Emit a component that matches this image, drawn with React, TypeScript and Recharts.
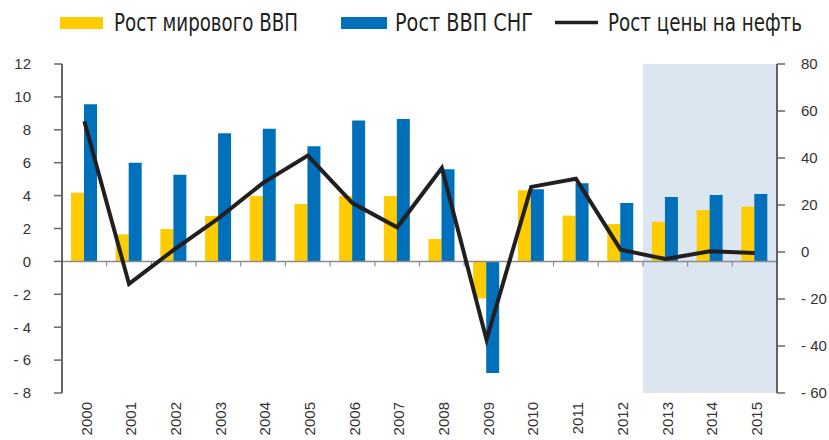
import React from 'react'
import {
  ComposedChart,
  Bar,
  Line,
  XAxis,
  YAxis,
  ReferenceArea,
  ReferenceLine,
} from 'recharts'

const YEARS = [
  '2000', '2001', '2002', '2003', '2004', '2005', '2006', '2007',
  '2008', '2009', '2010', '2011', '2012', '2013', '2014', '2015',
]
const WORLD_GDP = [4.18, 1.64, 1.97, 2.76, 3.98, 3.49, 3.98, 3.98, 1.36, -2.25, 4.32, 2.78, 2.27, 2.41, 3.12, 3.33]
const CIS_GDP = [9.56, 6.0, 5.26, 7.79, 8.06, 7.0, 8.56, 8.65, 5.6, -6.78, 4.38, 4.75, 3.55, 3.92, 4.04, 4.1]
const OIL_PRICE = [55.6, -13.6, 0.9, 14.3, 29.4, 41, 20.8, 10.5, 35.7, -37.3, 27.7, 31.2, 1.0, -3.0, 0.3, -0.4]

const LEFT_TICKS = [-8, -6, -4, -2, 0, 2, 4, 6, 8, 10, 12]
const RIGHT_TICKS = [-60, -40, -20, 0, 20, 40, 60, 80]
const FORECAST_FROM = '2013'
const FORECAST_TO = '2015'

const LABELS = {
  world: 'Рост мирового ВВП',
  cis: 'Рост ВВП СНГ',
  oil: 'Рост цены на нефть',
}

const YELLOW = '#ffcc00'
const BLUE = '#0070ba'
const BLACK = '#231f20'
const SHADE = '#dce6f1'
const AXIS = '#333333'

const data = YEARS.map((year, i) => ({
  year,
  world: WORLD_GDP[i],
  cis: CIS_GDP[i],
  oil: OIL_PRICE[i],
}))

const fmt = (v: number) => (v < 0 ? `- ${Math.abs(v)}` : `${v}`)

const tickFont = { fontFamily: '"Liberation Sans", Arial, sans-serif', fontSize: 15, fill: AXIS }

function YearTick(props: any) {
  const { x, y, payload } = props
  return (
    <text
      x={x + 2}
      y={y}
      dy="0.35em"
      transform={`rotate(-90 ${x + 2} ${y})`}
      textAnchor="end"
      {...tickFont}
    >
      {payload.value}
    </text>
  )
}

// zero line with small ticks on the category boundaries
function ZeroLine(props: any) {
  const { x1, x2, y1 } = props
  const step = (x2 - x1) / YEARS.length
  return (
    <g>
      <line x1={x1} x2={x2} y1={y1} y2={y1} stroke="#8c8c8c" strokeWidth={1.5} />
      {YEARS.slice(1).map((y, i) => (
        <line
          key={y}
          x1={x1 + step * (i + 1)}
          x2={x1 + step * (i + 1)}
          y1={y1}
          y2={y1 + 5}
          stroke="#8c8c8c"
          strokeWidth={1.2}
        />
      ))}
    </g>
  )
}

function LegendBar() {
  const font = {
    fontFamily: '"DejaVu Sans Condensed", "Roboto", sans-serif',
    fontSize: 22,
    fill: BLACK,
    lengthAdjust: 'spacingAndGlyphs' as const,
  }
  return (
    <svg width={829} height={52} style={{ position: 'absolute', left: 0, top: 0 }}>
      <rect x={60} y={17} width={43} height={12} fill={YELLOW} />
      <rect x={341} y={17} width={46} height={12} fill={BLUE} />
      <line x1={555} x2={598} y1={22.5} y2={22.5} stroke={BLACK} strokeWidth={3.5} />
      <g transform="translate(0 31) scale(1 1.1) translate(0 -31)">
        <text x={114} y={31} textLength={184} {...font}>{LABELS.world}</text>
        <text x={395} y={31} textLength={138} {...font}>{LABELS.cis}</text>
        <text x={608} y={31} textLength={194} {...font}>{LABELS.oil}</text>
      </g>
    </svg>
  )
}

export default function App() {
  return (
    <div style={{ position: 'absolute', left: 0, top: 0, width: 829, height: 440, background: '#fff' }}>
      <ComposedChart
        width={829}
        height={440}
        data={data}
        margin={{ top: 64, right: 0, bottom: 0, left: 0 }}
        barGap={0}
      >
        <ReferenceArea
          x1={FORECAST_FROM}
          x2={FORECAST_TO}
          yAxisId="left"
          fill={SHADE}
          fillOpacity={1}
          stroke="none"
          ifOverflow="extendDomain"
        />
        <XAxis
          dataKey="year"
          interval={0}
          axisLine={false}
          tickLine={false}
          tickSize={0}
          tickMargin={9}
          height={47}
          tick={<YearTick />}
        />
        <YAxis
          yAxisId="left"
          domain={[-8, 12]}
          ticks={LEFT_TICKS}
          interval={0}
          width={62}
          tickSize={8}
          tickMargin={23}
          tickFormatter={fmt}
          axisLine={{ stroke: AXIS, strokeWidth: 1.5 }}
          tickLine={{ stroke: '#666', strokeWidth: 1.5 }}
          tick={tickFont}
        />
        <YAxis
          yAxisId="right"
          orientation="right"
          domain={[-60, 80]}
          ticks={RIGHT_TICKS}
          interval={0}
          width={52}
          tickSize={8}
          tickMargin={16}
          tickFormatter={fmt}
          axisLine={{ stroke: AXIS, strokeWidth: 1.5 }}
          tickLine={{ stroke: '#666', strokeWidth: 1.5 }}
          tick={tickFont}
        />
        <Bar dataKey="world" yAxisId="left" fill={YELLOW} barSize={13} isAnimationActive={false} />
        <Bar dataKey="cis" yAxisId="left" fill={BLUE} barSize={13} isAnimationActive={false} />
        <ReferenceLine y={0} yAxisId="left" shape={<ZeroLine />} />
        <Line
          dataKey="oil"
          yAxisId="right"
          type="linear"
          stroke={BLACK}
          strokeWidth={4}
          strokeLinejoin="miter"
          dot={false}
          activeDot={false}
          isAnimationActive={false}
        />
      </ComposedChart>
      <LegendBar />
    </div>
  )
}
